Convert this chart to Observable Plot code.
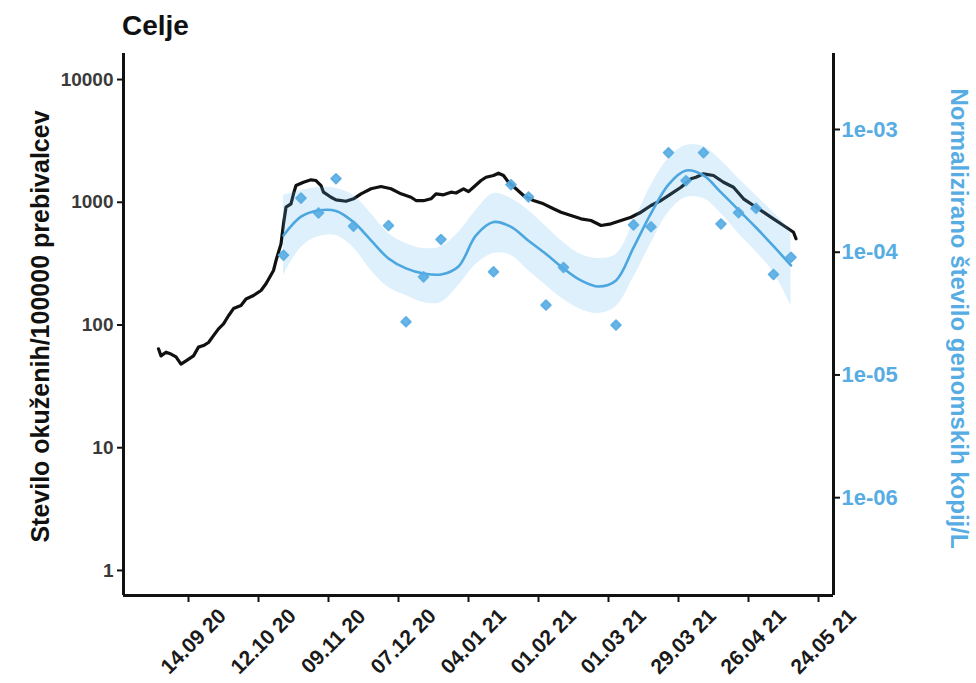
<!DOCTYPE html>
<html><head><meta charset="utf-8">
<script src="https://cdn.jsdelivr.net/npm/d3@7"></script>
<script src="https://cdn.jsdelivr.net/npm/@observablehq/plot@0.6"></script>
<style>
body{margin:0;background:#fff;font-family:"Liberation Sans",Arial,sans-serif;}
#title{position:relative;height:45px;width:976px;}
#title span{position:absolute;left:122px;top:12px;font-size:28px;line-height:28px;font-weight:bold;color:#111;}
#chart svg{display:block;}
</style></head><body>
<div id="title"><span>Celje</span></div>
<div id="chart"></div>
<script>
// 14-day incidence per 100000 inhabitants (left axis)
const casesDates = ["2020-09-02","2020-09-03","2020-09-05","2020-09-07","2020-09-09","2020-09-11","2020-09-13","2020-09-16","2020-09-18","2020-09-20","2020-09-22","2020-09-24","2020-09-26","2020-09-28","2020-09-30","2020-10-02","2020-10-05","2020-10-07","2020-10-10","2020-10-13","2020-10-15","2020-10-18","2020-10-19","2020-10-21","2020-10-22","2020-10-23","2020-10-25","2020-10-26","2020-10-27","2020-10-30","2020-11-02","2020-11-04","2020-11-06","2020-11-07","2020-11-10","2020-11-12","2020-11-16","2020-11-19","2020-11-22","2020-11-26","2020-11-30","2020-12-04","2020-12-08","2020-12-12","2020-12-14","2020-12-17","2020-12-20","2020-12-22","2020-12-25","2020-12-28","2020-12-30","2021-01-02","2021-01-04","2021-01-06","2021-01-09","2021-01-11","2021-01-14","2021-01-16","2021-01-18","2021-01-20","2021-01-23","2021-01-26","2021-01-30","2021-02-03","2021-02-07","2021-02-10","2021-02-14","2021-02-18","2021-02-22","2021-02-26","2021-03-02","2021-03-06","2021-03-10","2021-03-14","2021-03-18","2021-03-22","2021-03-26","2021-03-30","2021-04-03","2021-04-05","2021-04-08","2021-04-12","2021-04-16","2021-04-20","2021-04-24","2021-04-28","2021-05-02","2021-05-06","2021-05-10","2021-05-14","2021-05-15"];
const casesValues = [64,56,60,58,55,48,51,56,66,68,72,82,93,102,119,136,144,163,174,191,217,278,335,458,667,912,971,1172,1369,1456,1524,1504,1369,1208,1099,1047,1020,1067,1172,1288,1343,1288,1172,1099,1033,1030,1067,1172,1150,1208,1190,1288,1220,1326,1504,1600,1652,1725,1652,1456,1288,1135,1033,971,885,830,780,733,710,647,667,710,755,830,941,1033,1172,1326,1552,1600,1706,1652,1456,1326,1067,941,830,733,647,570,504];

// Wastewater samples: normalised genome copies/L (right axis)
const sampleDates = ["2020-10-22","2020-10-29","2020-11-05","2020-11-12","2020-11-19","2020-12-03","2020-12-10","2020-12-17","2020-12-24","2021-01-14","2021-01-21","2021-01-28","2021-02-04","2021-02-11","2021-03-04","2021-03-11","2021-03-18","2021-03-25","2021-04-01","2021-04-08","2021-04-15","2021-04-22","2021-04-29","2021-05-06","2021-05-13"];
const sampleValues = [9.46e-5,2.76e-4,2.09e-4,3.97e-4,1.63e-4,1.65e-4,2.71e-5,6.30e-5,1.27e-4,6.92e-5,3.55e-4,2.82e-4,3.71e-5,7.51e-5,2.55e-5,1.67e-4,1.61e-4,6.47e-4,3.83e-4,6.47e-4,1.70e-4,2.10e-4,2.28e-4,6.59e-5,9.10e-5];

// Smoothed trend with confidence band (right axis)
const smoothDates = ["2020-10-22","2020-10-29","2020-11-05","2020-11-12","2020-11-19","2020-11-26","2020-12-03","2020-12-10","2020-12-17","2020-12-24","2020-12-31","2021-01-07","2021-01-14","2021-01-21","2021-01-28","2021-02-04","2021-02-11","2021-02-18","2021-02-25","2021-03-04","2021-03-11","2021-03-18","2021-03-25","2021-04-01","2021-04-08","2021-04-15","2021-04-22","2021-04-29","2021-05-06","2021-05-13"];
const smoothValues = [1.37e-4,1.95e-4,2.19e-4,2.17e-4,1.76e-4,1.25e-4,8.9e-5,7.38e-5,6.71e-5,6.59e-5,7.66e-5,1.37e-4,1.76e-4,1.61e-4,1.24e-4,9.68e-5,7.38e-5,5.89e-5,5.26e-5,5.89e-5,1.09e-4,2.07e-4,3.56e-4,4.63e-4,4.22e-4,3.07e-4,2.21e-4,1.59e-4,1.12e-4,7.8e-5];
const smoothLower = [6.47e-5,1.09e-4,1.34e-4,1.37e-4,1.09e-4,7.10e-5,5.16e-5,4.45e-5,3.90e-5,3.90e-5,5.36e-5,7.94e-5,9.77e-5,9.42e-5,7.10e-5,5.36e-5,4.12e-5,3.42e-5,3.17e-5,3.61e-5,6.23e-5,1.18e-4,2.11e-4,2.79e-4,2.74e-4,2.07e-4,1.42e-4,1.01e-4,6.84e-5,3.68e-5];
const smoothUpper = [2.90e-4,3.18e-4,3.37e-4,3.30e-4,2.90e-4,2.07e-4,1.42e-4,1.18e-4,1.07e-4,1.11e-4,1.45e-4,2.19e-4,3.01e-4,2.74e-4,2.19e-4,1.62e-4,1.20e-4,9.59e-5,8.89e-5,9.59e-5,1.75e-4,3.50e-4,5.81e-4,7.41e-4,7.27e-4,5.59e-4,3.99e-4,2.90e-4,2.11e-4,1.50e-4];

// Axes
const xTickDates = ["2020-09-14","2020-10-12","2020-11-09","2020-12-07","2021-01-04","2021-02-01","2021-03-01","2021-03-29","2021-04-26","2021-05-24"];
const xTickLabels = ["14.09 20","12.10 20","09.11 20","07.12 20","04.01 21","01.02 21","01.03 21","29.03 21","26.04 21","24.05 21"];
const leftTicks = [1, 10, 100, 1000, 10000];
const rightTicks = [1e-6, 1e-5, 1e-4, 1e-3];
const rightTickLabels = ["1e-06", "1e-05", "1e-04", "1e-03"];
const xDomain = ["2020-08-19", "2021-05-30"];
const yDomain = [0.625, 16300];
const rightFactor = 3.917e6; // right-axis value * factor = left-axis position
const leftTitle = "Stevilo okuženih/100000 prebivalcev";
const rightTitle = "Normalizirano število genomskih kopij/L";

const parse = d3.utcParse("%Y-%m-%d");
const cases = casesDates.map((d, i) => ({date: parse(d), value: casesValues[i]}));
const samples = sampleDates.map((d, i) => ({date: parse(d), value: sampleValues[i]}));
const smooth = smoothDates.map((d, i) => ({date: parse(d), value: smoothValues[i], lo: smoothLower[i], hi: smoothUpper[i]}));
const ticksX = xTickDates.map((d, i) => ({date: parse(d), label: xTickLabels[i]}));
const ticksR = rightTicks.map((t, i) => ({pos: t * rightFactor, label: rightTickLabels[i]}));
const xD = xDomain.map(parse);

const blue = "#56ACE3";
const font = "Liberation Sans, Arial, sans-serif";

const chart = Plot.plot({
  width: 976,
  height: 638,
  marginTop: 8,
  marginBottom: 88,
  marginLeft: 123,
  marginRight: 143,
  style: {fontFamily: font, background: "white", overflow: "visible"},
  x: {type: "utc", domain: xD},
  y: {type: "log", domain: yDomain},
  marks: [
    Plot.lineY(cases, {x: "date", y: "value", stroke: "#111", strokeWidth: 3.2, strokeLinejoin: "round"}),
    Plot.areaY(smooth, {x: "date", y1: d => d.lo * rightFactor, y2: d => d.hi * rightFactor, fill: "#56B4E9", fillOpacity: 0.2, curve: "catmull-rom"}),
    Plot.lineY(smooth, {x: "date", y: d => d.value * rightFactor, stroke: "#4CA6E0", strokeWidth: 2.6, curve: "catmull-rom"}),
    Plot.dot(samples, {x: "date", y: d => d.value * rightFactor, symbol: "square", rotate: 45, r: 3.9, fill: blue, stroke: blue, strokeWidth: 1.8, strokeLinejoin: "round", fillOpacity: 0.9, strokeOpacity: 0.9}),
    // axis lines
    Plot.ruleX([xD[0]], {y1: yDomain[0], y2: yDomain[1], stroke: "#111", strokeWidth: 3}),
    Plot.ruleX([xD[1]], {y1: yDomain[0], y2: yDomain[1], stroke: "#111", strokeWidth: 3}),
    Plot.ruleY([yDomain[0]], {x1: xD[0], x2: xD[1], stroke: "#111", strokeWidth: 3}),
    // left axis
    Plot.axisY({ticks: leftTicks, tickFormat: d => String(d), tickSize: 6, tickPadding: 4, strokeWidth: 2, stroke: "#111",
      fill: "#3a3a3a", fontSize: 19, fontWeight: "bold", label: null}),
    // right axis
    Plot.axisY({anchor: "right", ticks: ticksR.map(t => t.pos), tickFormat: () => "", tickSize: 6, strokeWidth: 2, stroke: "#111", label: null}),
    Plot.text(ticksR, {y: "pos", text: "label", frameAnchor: "right", dx: 8, textAnchor: "start", lineAnchor: "middle",
      fill: blue, fontSize: 22, fontWeight: "bold"}),
    // x axis ticks
    Plot.axisX({ticks: ticksX.map(t => t.date), tickFormat: () => "", tickSize: 7, strokeWidth: 2, stroke: "#111", label: null}),
    Plot.text(ticksX, {x: "date", text: "label", frameAnchor: "bottom", dy: 46, dx: 5, rotate: -45, textAnchor: "middle", lineAnchor: "middle",
      fontSize: 21, fontWeight: "bold", fill: "#1a1a1a"}),
    // axis titles
    Plot.text([leftTitle], {frameAnchor: "left", dx: -83, dy: 2, rotate: -90, textAnchor: "middle", lineAnchor: "middle",
      fontSize: 25, fontWeight: "bold", fill: "#111"}),
    Plot.text([rightTitle], {frameAnchor: "right", dx: 125, dy: -6, rotate: 90, textAnchor: "middle", lineAnchor: "middle",
      fontSize: 24, fontWeight: "bold", fill: blue})
  ]
});
document.getElementById("chart").appendChild(chart);
</script>
</body></html>
